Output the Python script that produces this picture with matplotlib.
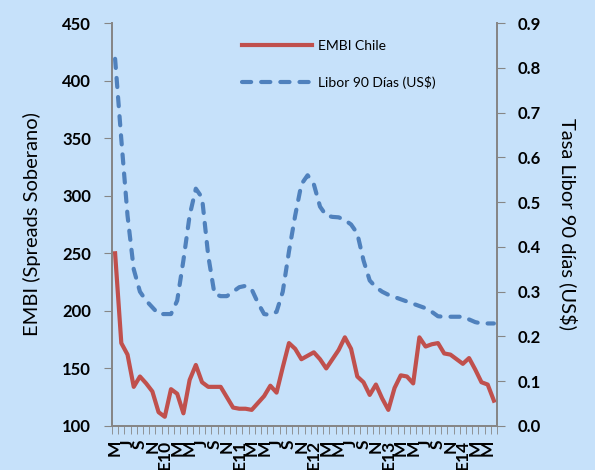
import matplotlib
matplotlib.use('Agg')
import matplotlib.pyplot as plt
from matplotlib.ticker import FixedLocator, FormatStrFormatter, MultipleLocator

plt.rcParams['font.family'] = ['Lato', 'DejaVu Sans']

# monthly data, May 2009 - Jun 2014
embi = [250, 172, 162, 134, 143, 137, 130, 112, 108, 132,
        128, 111, 140, 153, 138, 134, 134, 134, 125, 116,
        115, 115, 114, 120, 126, 135, 129, 151, 172, 167,
        158, 161, 164, 158, 150, 158, 166, 177, 167, 143,
        138, 127, 136, 124, 114, 133, 144, 143, 137, 177,
        169, 171, 172, 163, 162, 158, 154, 159, 149, 138,
        136, 122]
libor = [0.82, 0.64, 0.47, 0.35, 0.30, 0.28, 0.265, 0.25, 0.25, 0.25,
         0.28, 0.37, 0.47, 0.53, 0.51, 0.38, 0.295, 0.29, 0.29, 0.30,
         0.31, 0.313, 0.305, 0.275, 0.25, 0.248, 0.255, 0.30, 0.39, 0.47,
         0.54, 0.56, 0.54, 0.49, 0.47, 0.467, 0.466, 0.46, 0.45, 0.43,
         0.37, 0.325, 0.31, 0.30, 0.293, 0.288, 0.283, 0.278, 0.273, 0.268,
         0.263, 0.255, 0.245, 0.244, 0.244, 0.244, 0.244, 0.238, 0.232, 0.229,
         0.229, 0.229]
month_labels = ['M', 'J', 'S', 'N', 'E10', 'M', 'M', 'J', 'S', 'N', 'E11',
                'M', 'M', 'J', 'S', 'N', 'E12', 'M', 'M', 'J', 'S', 'N', 'E13',
                'M', 'M', 'J', 'S', 'N', 'E14', 'M', 'M']

bg = '#c6e1fa'
grey = '#868686'
x = list(range(len(embi)))

fig = plt.figure(figsize=(5.95, 4.7), dpi=100, facecolor=bg)
ax = fig.add_axes([112/595, 44/470, 385/595, 403/470], facecolor=bg)
ax2 = ax.twinx()

l1, = ax.plot(x, embi, color='#c0504d', lw=3, solid_joinstyle='round',
              label='EMBI Chile', zorder=3)
l2, = ax2.plot(x, libor, color='#4f81bd', lw=3, dashes=(2.2, 2.4),
               dash_capstyle='round', label='Libor 90 Días (US$)')

ax.set_xlim(-0.5, len(embi) - 0.5)
ax.set_ylim(100, 450)
ax2.set_ylim(0, 0.9)
ax.yaxis.set_major_locator(MultipleLocator(50))
ax2.yaxis.set_major_locator(MultipleLocator(0.1))
ax2.yaxis.set_major_formatter(FormatStrFormatter('%.1f'))

ax.set_xticks(x[::2])
ax.set_xticklabels(month_labels, rotation=90, fontsize=12.5, fontweight='bold',
                   va='top')
ax.xaxis.set_minor_locator(FixedLocator([i - 0.5 for i in range(len(embi) + 1)]))
ax.tick_params(axis='x', which='major', length=0, pad=10)
ax.tick_params(axis='x', which='minor', length=6, color=grey, direction='out')

for a in (ax, ax2):
    a.spines['top'].set_visible(False)
    for s in ('left', 'right', 'bottom'):
        a.spines[s].set_color(grey)
        a.spines[s].set_linewidth(1.3)
    a.tick_params(axis='y', length=6, color=grey, pad=9, labelsize=12)
    for t in a.get_yticklabels():
        t.set_fontweight('bold')

ax.set_ylabel('EMBI (Spreads Soberano)', fontsize=14.5, labelpad=15)
ax2.set_ylabel('Tasa Libor 90 días (US$)', fontsize=14.5, rotation=270,
               labelpad=26)

ax2.legend([l1, l2], ['EMBI Chile', 'Libor 90 Días (US$)'], loc='upper left',
           bbox_to_anchor=(0.32, 0.975), frameon=False, fontsize=10,
           borderpad=0, handlelength=5, labelspacing=1.75, handletextpad=0.45)

fig.savefig('out.png', dpi=100, facecolor=bg)
